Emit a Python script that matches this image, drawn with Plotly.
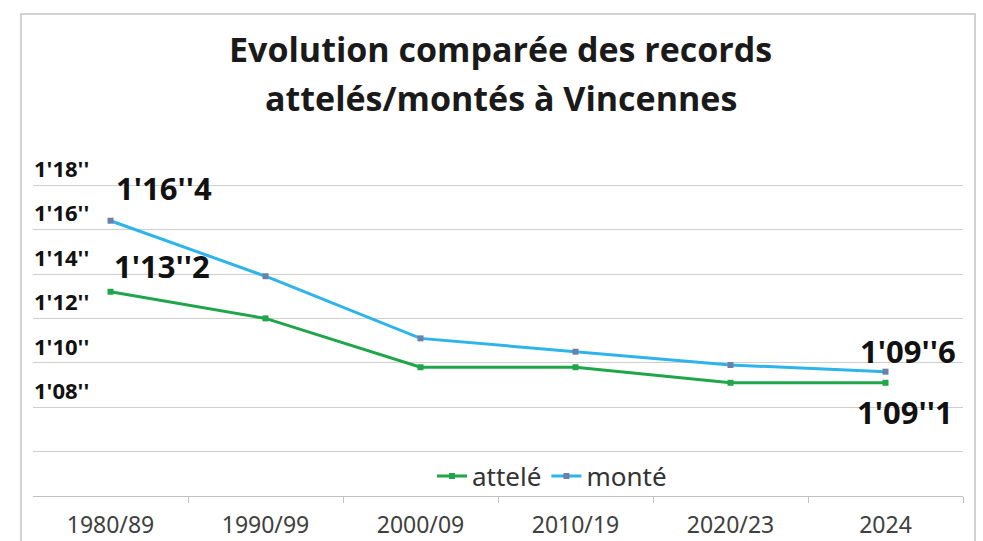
import plotly.graph_objects as go

categories = ["1980/89", "1990/99", "2000/09", "2010/19", "2020/23", "2024"]
attele = [73.2, 72.0, 69.8, 69.8, 69.1, 69.1]
monte = [76.4, 73.9, 71.1, 70.5, 69.9, 69.6]
grid_vals = [64, 66, 68, 70, 72, 74, 76, 78]
grid_text = ["", "", "1'08''", "1'10''", "1'12''", "1'14''", "1'16''", "1'18''"]

W, H = 983, 541
ML, MR, MT, MB = 33, 20, 140, 45
PW, PH = W - ML - MR, H - MT - MB

def px_x(px):
    return (px - ML) / PW

def px_y(py):
    return (H - MB - py) / PH

first_i, last_i = 0, len(categories) - 1

fig = go.Figure()
fig.add_trace(go.Scatter(
    x=categories, y=attele, name="attelé", mode="lines+markers",
    line=dict(color="#1fa64a", width=3),
    marker=dict(symbol="square", size=6, color="#1fa64a"),
))
fig.add_trace(go.Scatter(
    x=categories, y=monte, name="monté", mode="lines+markers",
    line=dict(color="#2db4ea", width=3),
    marker=dict(symbol="square", size=6, color="#6d80a8"),
))

lab_font = dict(family="Open Sans", size=31, color="#111111")
fig.add_annotation(x=first_i, y=monte[first_i], text="<b>1'16''4</b>", showarrow=False,
                   xshift=53, yshift=33, font=lab_font)
fig.add_annotation(x=first_i, y=attele[first_i], text="<b>1'13''2</b>", showarrow=False,
                   xshift=51, yshift=26, font=lab_font)
fig.add_annotation(x=last_i, y=monte[last_i], text="<b>1'09''6</b>", showarrow=False,
                   xshift=22, yshift=21, font=lab_font)
fig.add_annotation(x=last_i, y=attele[last_i], text="<b>1'09''1</b>", showarrow=False,
                   xshift=19, yshift=-29, font=lab_font)

title_font = dict(family="Open Sans", size=34, color="#1a1a1a")
fig.add_annotation(xref="paper", yref="paper", x=px_x(501), y=px_y(49),
                   text="<b>Evolution comparée des records</b>", showarrow=False,
                   xanchor="center", yanchor="middle", font=title_font)
fig.add_annotation(xref="paper", yref="paper", x=px_x(501), y=px_y(98),
                   text="<b>attelés/montés à Vincennes</b>", showarrow=False,
                   xanchor="center", yanchor="middle", font=title_font)

fig.add_shape(type="rect", xref="paper", yref="paper",
              x0=px_x(21), x1=px_x(975), y0=px_y(560), y1=px_y(14),
              line=dict(color="#c4c4c4", width=1.5), fillcolor="rgba(0,0,0,0)", layer="below")

fig.update_layout(
    width=W, height=H,
    margin=dict(l=ML, r=MR, t=MT, b=MB, autoexpand=False),
    paper_bgcolor="white", plot_bgcolor="white",
    showlegend=True,
    legend=dict(orientation="h", x=px_x(432), y=px_y(476), xanchor="left", yanchor="middle",
                font=dict(family="Noto Sans", size=26, color="#333333"),
                bgcolor="rgba(0,0,0,0)", itemwidth=30, tracegroupgap=0),
    xaxis=dict(
        type="category", showgrid=False, showline=True, linecolor="#c0c0c0", linewidth=1.2,
        ticks="outside", tickson="boundaries", ticklen=6, tickcolor="#c0c0c0",
        tickfont=dict(family="Noto Sans", size=23, color="#404040"),
        ticklabelstandoff=8, automargin=False,
        range=[-0.5, 5.5],
    ),
    yaxis=dict(
        range=[64, 64 + PH / 22.2], tickmode="array", tickvals=grid_vals, ticktext=grid_text,
        showgrid=True, gridcolor="#cfcfcf", gridwidth=1.2, zeroline=False, showline=False,
        ticks="", ticklabelposition="inside", ticklabelshift=-16, ticklabelstandoff=-2,
        automargin=False,
        tickfont=dict(family="Open Sans", size=22, color="#111111", weight="bold"),
    ),
)

fig.write_html("out.html", post_script="document.body.style.margin='0';",
               config={"displayModeBar": False})
